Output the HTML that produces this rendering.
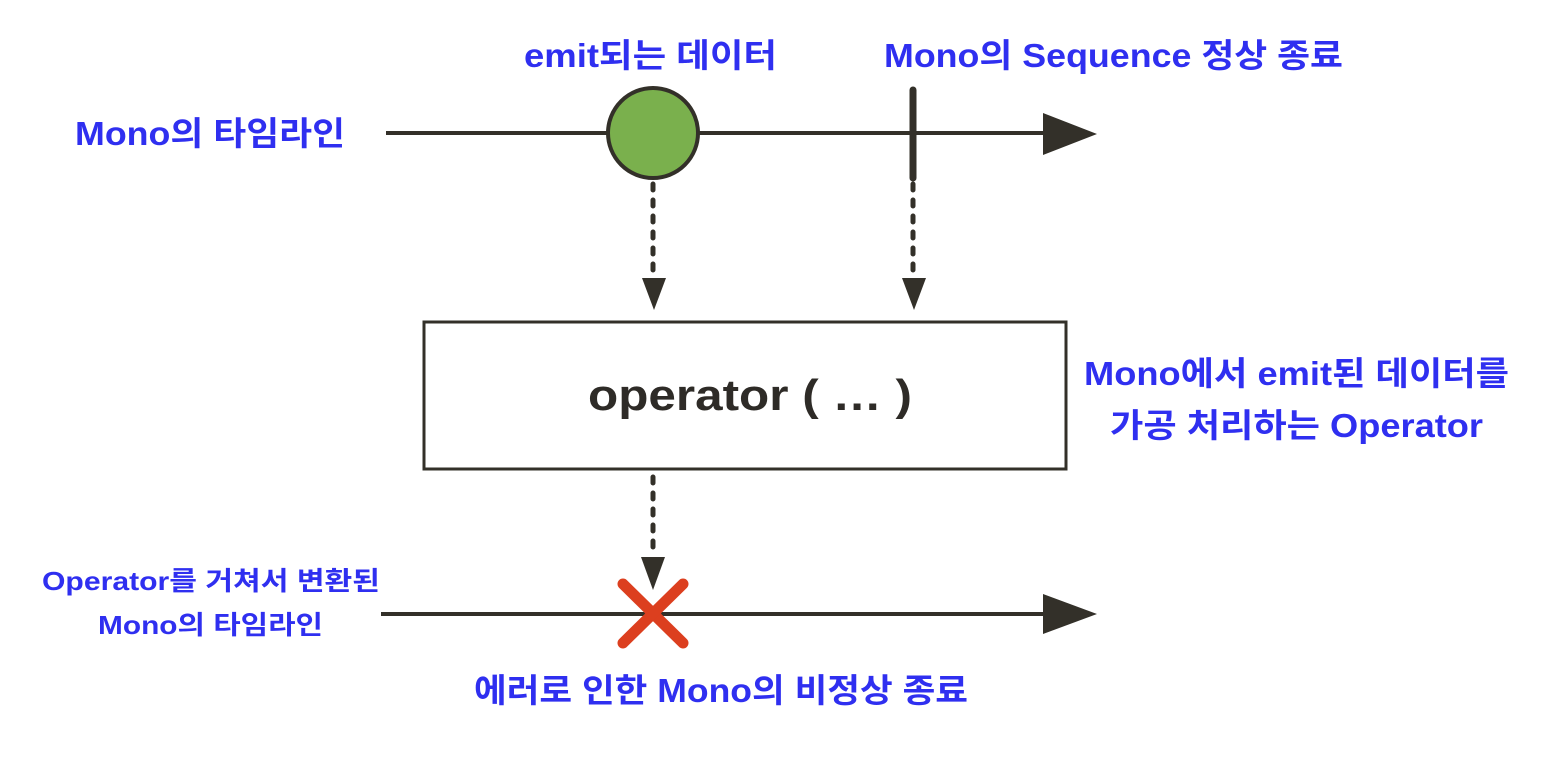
<!DOCTYPE html>
<html><head><meta charset="utf-8"><style>
body{margin:0;background:#fff;}
svg text{font-family:"Liberation Sans","Noto Sans CJK KR",sans-serif;font-weight:bold;}
.b{fill:#2f2ff0;}
</style></head><body>
<svg width="1560" height="776" viewBox="0 0 1560 776" xmlns="http://www.w3.org/2000/svg">
<g stroke="#333029" fill="none">
<line x1="386" y1="133" x2="1045" y2="133" stroke-width="4"/>
<line x1="381" y1="614" x2="1045" y2="614" stroke-width="4"/>
<line x1="913" y1="90" x2="913" y2="178" stroke-width="7" stroke-linecap="round"/>
<line x1="653" y1="184" x2="653" y2="278" stroke-width="5" stroke-dasharray="6,10" stroke-linecap="round"/>
<line x1="913" y1="184" x2="913" y2="278" stroke-width="5" stroke-dasharray="6,10" stroke-linecap="round"/>
<line x1="653" y1="477" x2="653" y2="556" stroke-width="5" stroke-dasharray="6,10" stroke-linecap="round"/>
<rect x="424" y="322" width="642" height="147" stroke-width="3"/>
</g>
<g fill="#333029">
<polygon points="1043,113 1097,134 1043,155"/>
<polygon points="1043,594 1097,614 1043,634"/>
<polygon points="642,278 666,278 654,310"/>
<polygon points="902,278 926,278 914,310"/>
<polygon points="641,557 665,557 653,590"/>
</g>
<circle cx="653" cy="133" r="45" fill="#7ab04d" stroke="#333029" stroke-width="4"/>
<g stroke="#dc3f1f" stroke-width="11" stroke-linecap="round">
<line x1="623" y1="584" x2="683" y2="643"/>
<line x1="683" y1="584" x2="623" y2="643"/>
</g>
<text class="b" x="75" y="145" font-size="33" textLength="270" lengthAdjust="spacingAndGlyphs">Mono의 타임라인</text>
<text class="b" x="524" y="67" font-size="33" textLength="253" lengthAdjust="spacingAndGlyphs">emit되는 데이터</text>
<text class="b" x="884" y="67" font-size="33" textLength="459" lengthAdjust="spacingAndGlyphs">Mono의 Sequence 정상 종료</text>
<text x="588" y="410" font-size="44" fill="#2e2b27" textLength="324" lengthAdjust="spacingAndGlyphs">operator ( … )</text>
<text class="b" x="1084" y="385" font-size="33" textLength="425" lengthAdjust="spacingAndGlyphs">Mono에서 emit된 데이터를</text>
<text class="b" x="1110" y="437" font-size="33" textLength="373" lengthAdjust="spacingAndGlyphs">가공 처리하는 Operator</text>
<text class="b" x="42" y="590" font-size="26" textLength="338" lengthAdjust="spacingAndGlyphs">Operator를 거쳐서 변환된</text>
<text class="b" x="98" y="634" font-size="26" textLength="225" lengthAdjust="spacingAndGlyphs">Mono의 타임라인</text>
<text class="b" x="474" y="702" font-size="33" textLength="494" lengthAdjust="spacingAndGlyphs">에러로 인한 Mono의 비정상 종료</text>
</svg>
</body></html>
